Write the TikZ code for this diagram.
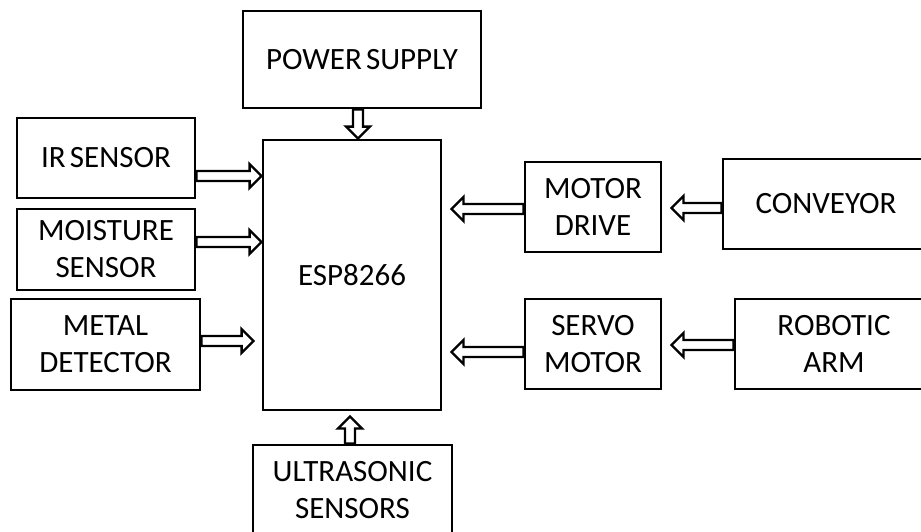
\documentclass[tikz,border=0pt]{standalone}
\usepackage{fontspec}
\setmainfont{Carlito}[WordSpace=0.6]
\usetikzlibrary{calc}
\tikzset{
  blk/.style={draw=black, line width=2.8pt, inner sep=0pt, align=center,
    font=\fontsize{31}{37}\selectfont},
  hollow/.style={draw=black, fill=white, line width=2.3pt, line join=miter,
    to path={
      let \p1=(\tikztostart), \p2=(\tikztotarget),
          \n1={atan2(\y2-\y1,\x2-\x1)}, \n2={veclen(\x2-\x1,\y2-\y1)} in
      {[shift={(\p1)}, rotate=\n1]
        (0pt,-5pt) -- ({(\n2-12)*1pt},-5pt) -- ({(\n2-12)*1pt},-12pt)
        -- ({\n2*1pt},0pt) -- ({(\n2-12)*1pt},12pt) -- ({(\n2-12)*1pt},5pt)
        -- (0pt,5pt) -- cycle}
    }}
}
\begin{document}
\begin{tikzpicture}[x=1pt,y=-1pt]
\useasboundingbox (0,0) rectangle (921,531);
\fill[white] (0,0) rectangle (921,531);
\node[blk, minimum width=238pt, minimum height=97pt] (power) at (362,59.5) {POWER SUPPLY};
\node[blk, minimum width=178pt, minimum height=270pt] (esp) at (352,275) {ESP8266};
\node[blk, minimum width=178pt, minimum height=80pt] (ir) at (106,158) {IR SENSOR};
\node[blk, minimum width=178pt, minimum height=81pt] (moist) at (106,249.5) {MOISTURE\\SENSOR};
\node[blk, minimum width=189pt, minimum height=91pt] (metal) at (105.5,344.5) {METAL\\DETECTOR};
\node[blk, minimum width=136pt, minimum height=90pt] (motor) at (593,207) {MOTOR\\DRIVE};
\node[blk, minimum width=206pt, minimum height=90pt] (conv) at (826,204) {CONVEYOR};
\node[blk, minimum width=136pt, minimum height=90pt] (servo) at (593,344) {SERVO\\MOTOR};
\node[blk, minimum width=198pt, minimum height=90pt] (robot) at (834,344) {ROBOTIC\\ARM};
\node[blk, minimum width=199pt, minimum height=90pt] (ultra) at (352.5,490) {ULTRASONIC\\SENSORS};
\coordinate (eL) at ([xshift=-8pt]esp.west);
\coordinate (eR) at ([xshift=9pt]esp.east);
\coordinate (mR) at ([xshift=9pt]motor.east);
\coordinate (eB) at ([yshift=-5pt]esp.south);
\draw[hollow] (ir.east |- 0,176) to (esp.west |- 0,176);
\draw[hollow] (moist.east |- 0,242) to (esp.west |- 0,242);
\draw[hollow] (metal.east |- 0,341) to (eL |- 0,341);
\draw[hollow] (motor.west |- 0,209) to (eR |- 0,209);
\draw[hollow] (conv.west |- 0,208) to (mR |- 0,208);
\draw[hollow] (servo.west |- 0,352) to (eR |- 0,352);
\draw[hollow] (robot.west |- 0,345) to (mR |- 0,345);
\draw[hollow] (power.south -| 358,0) to (esp.north -| 358,0);
\draw[hollow] (ultra.north -| 350,0) to (eB -| 350,0);
\end{tikzpicture}
\end{document}
